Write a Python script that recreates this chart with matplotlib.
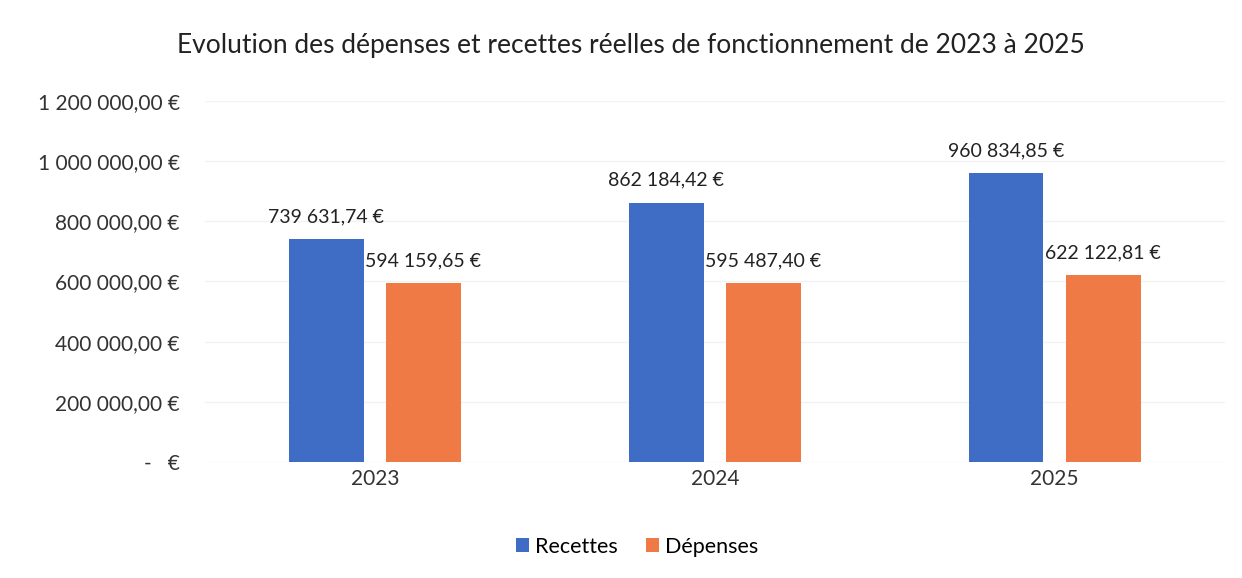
import numpy as np
import matplotlib.pyplot as plt

annees = ['2023', '2024', '2025']
recettes = [739631.74, 862184.42, 960834.85]
depenses = [594159.65, 595487.40, 622122.81]
y_ticks = [0, 200000, 400000, 600000, 800000, 1000000, 1200000]

plt.rcParams['font.family'] = ['Lato', 'DejaVu Sans']


def euro(v):
    if v == 0:
        return '-   €'
    s = f'{v:,.2f}'.replace(',', ' ').replace('.', ',')
    return s + ' €'


fig = plt.figure(figsize=(12.42, 5.78), dpi=100)
ax = fig.add_axes([0.165, 0.2007, 0.821, 0.6246])

x = np.arange(len(annees))
w = 0.22
off = 0.143
blue = '#3F6DC6'
orange = '#EF7A45'

b1 = ax.bar(x - off, recettes, w, color=blue, zorder=3, label='Recettes')
b2 = ax.bar(x + off, depenses, w, color=orange, zorder=3, label='Dépenses')

# etiquettes des barres (celles des depenses passent sous les barres bleues)
for xi, v in zip(x, recettes):
    ax.annotate(euro(v), (xi - off, v), xytext=(0, 10), textcoords='offset points',
                ha='center', va='bottom', fontsize=14, color='#222222', zorder=4)
for xi, v in zip(x, depenses):
    ax.annotate(euro(v), (xi + off, v), xytext=(0, 10), textcoords='offset points',
                ha='center', va='bottom', fontsize=14, color='#222222', zorder=2)

ax.set_xlim(-0.5, 2.5)
ax.set_ylim(0, 1200000)
ax.set_yticks(y_ticks)
ax.set_yticklabels([euro(v) for v in y_ticks])
ax.set_xticks(x)
ax.set_xticklabels(annees)
ax.tick_params(axis='both', length=0, labelsize=15, colors='#333333')
ax.tick_params(axis='y', pad=18)
ax.tick_params(axis='x', pad=5)
ax.grid(axis='y', color='#f2f2f2', linewidth=1, zorder=0)
for s in ax.spines.values():
    s.set_visible(False)

fig.text(0.508, 0.922, 'Evolution des dépenses et recettes réelles de fonctionnement de 2023 à 2025',
         ha='center', va='center', fontsize=19, color='#222222')

fig.legend(handles=[b1, b2], loc='center', bbox_to_anchor=(0.513, 0.054), ncol=2,
           frameon=False, fontsize=15.5, handlelength=0.6, handleheight=0.6,
           handletextpad=0.3, columnspacing=1.3)

fig.savefig('out.png', dpi=100)
